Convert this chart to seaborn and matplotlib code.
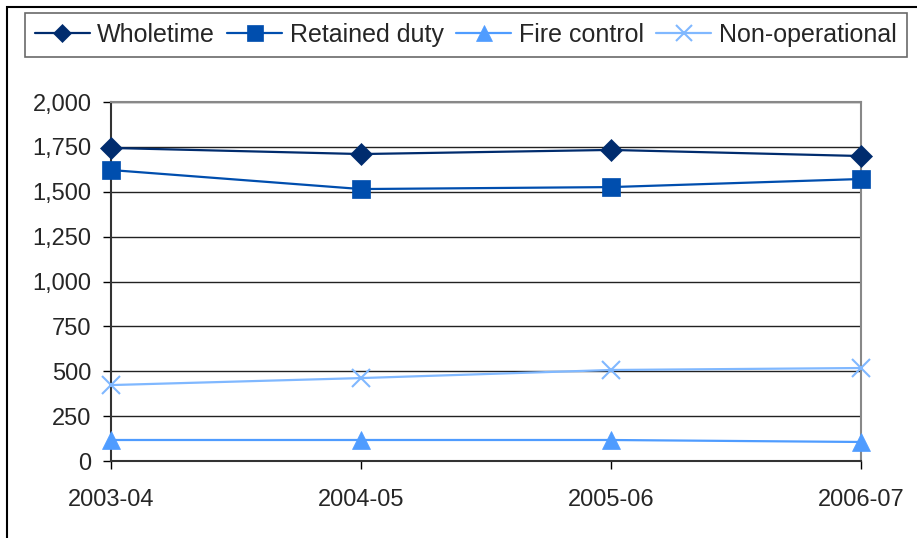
import matplotlib
matplotlib.use("Agg")
import matplotlib.pyplot as plt
import seaborn as sns
import pandas as pd
from matplotlib.patches import Rectangle
from matplotlib.ticker import FuncFormatter

years = ["2003-04", "2004-05", "2005-06", "2006-07"]
wholetime = [1744, 1710, 1733, 1699]
retained_duty = [1621, 1515, 1526, 1571]
fire_control = [117, 117, 117, 106]
non_operational = [423, 462, 507, 518]

series = [
    ("Wholetime", wholetime, "#002C6E", "D", 11),
    ("Retained duty", retained_duty, "#004EAE", "s", 13),
    ("Fire control", fire_control, "#4F9CFF", "^", 13),
    ("Non-operational", non_operational, "#80B8FF", "x", 13),
]

sns.set_style("white")
plt.rcParams["font.family"] = ["Liberation Sans", "DejaVu Sans"]

fig = plt.figure(figsize=(9.17, 5.38), dpi=100)
ax = fig.add_axes([111/917, 1-461/538, (861-111)/917, (461-102)/538])

xs = list(range(len(years)))
for name, vals, color, marker, ms in series:
    df = pd.DataFrame({"x": xs, "y": vals})
    sns.lineplot(data=df, x="x", y="y", ax=ax, color=color, marker=marker,
                 markersize=ms, markeredgecolor=color, markerfacecolor=color,
                 markeredgewidth=1.5 if marker == "x" else 0.5,
                 linewidth=1.6, label=name, clip_on=False, zorder=3)

ax.set_xlim(0, 3)
ax.set_ylim(0, 2000)
ax.set_yticks(range(0, 2001, 250))
ax.yaxis.set_major_formatter(FuncFormatter(lambda v, p: f"{int(v):,}"))
ax.set_xticks(xs)
ax.set_xticklabels(years)
ax.set_xlabel("")
ax.set_ylabel("")
ax.tick_params(axis="both", labelsize=17, length=6, direction="out", color="black",
               left=True, bottom=True, width=1)
ax.tick_params(axis="x", pad=14)
ax.tick_params(axis="y", pad=8)
ax.grid(axis="y", color="#222222", linewidth=1)
ax.set_axisbelow(True)
for s in ["top", "right"]:
    ax.spines[s].set_color("#888888")
    ax.spines[s].set_linewidth(1.5)
for s in ["left", "bottom"]:
    ax.spines[s].set_color("#333333")
    ax.spines[s].set_linewidth(1.5)

ax.get_legend().remove()
handles, labels = ax.get_legend_handles_labels()
leg = fig.legend(handles, labels, loc="center", ncol=4,
                 bbox_to_anchor=((28+903)/2/917, 1-35/538),
                 fontsize=18, frameon=True, fancybox=False, edgecolor="#444444",
                 handlelength=2.2, handletextpad=0.3, columnspacing=0.5,
                 borderpad=0.4, markerscale=0.85)
leg.get_frame().set_linewidth(1.2)

fig.patches.append(Rectangle((7/917, -0.1), 1.2, 1-7/538+0.1,
                             transform=fig.transFigure, fill=False,
                             edgecolor="black", linewidth=1.5))

fig.savefig("out.png", dpi=100)
